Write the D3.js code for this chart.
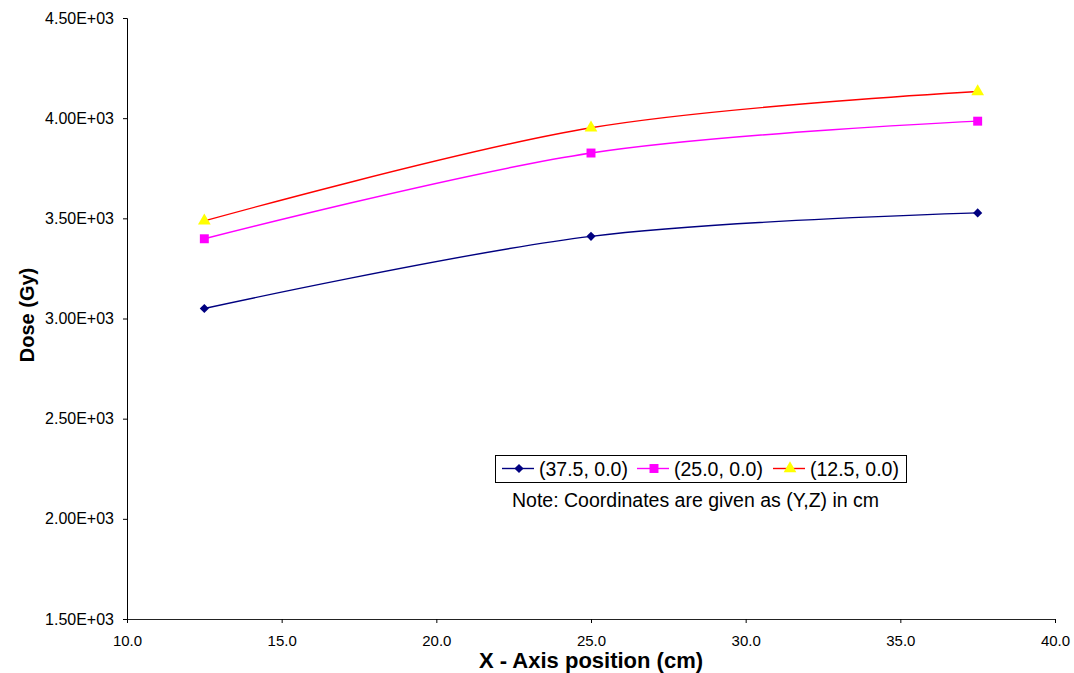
<!DOCTYPE html>
<html>
<head>
<meta charset="utf-8">
<script src="https://cdn.jsdelivr.net/npm/d3@7"></script>
<style>
html,body{margin:0;padding:0;background:#fff;}
svg{display:block;font-family:Arial,"Liberation Sans",sans-serif;}
</style>
</head>
<body>
<svg id="chart" width="1074" height="673"></svg>
<script>
const xValues = [12.5, 25.0, 37.5];
const seriesNames = ["(37.5, 0.0)", "(25.0, 0.0)", "(12.5, 0.0)"];
const seriesA = [3050, 3410, 3527];
const seriesB = [3398, 3826, 3985];
const seriesC = [3487, 3952, 4133];
const xTicks = [10, 15, 20, 25, 30, 35, 40];
const yTicks = [1500, 2000, 2500, 3000, 3500, 4000, 4500];
const colors = ["#000080", "#FF00FF", "#FF0000"];
const markerFill = ["#000080", "#FF00FF", "#FFFF00"];
const markerShapes = [d3.symbolSquare, d3.symbolSquare, d3.symbolTriangle];
const markerSizes = [42, 80, 70];
const markerRotate = [45, 0, 0];

const svg = d3.select("#chart");
const pLeft = 127, pRight = 1055, pTop = 18, pBottom = 619;
const x = d3.scaleLinear().domain([10, 40]).range([pLeft, pRight]);
const y = d3.scaleLinear().domain([1500, 4500]).range([pBottom, pTop]);

// axes
const yAxis = svg.append("g").attr("transform", `translate(${pLeft},0)`)
  .call(d3.axisLeft(y).tickValues(yTicks).tickSize(4).tickPadding(9)
    .tickFormat(d => d3.format(".2e")(d).replace("e+", "E+0")));
yAxis.select(".domain").attr("stroke", "#000");
yAxis.selectAll("text").attr("font-size", 16).attr("fill", "#000").attr("font-family", "Arial, 'Liberation Sans', sans-serif");

const xAxis = svg.append("g").attr("transform", `translate(0,${pBottom})`)
  .call(d3.axisBottom(x).tickValues(xTicks).tickSize(4).tickPadding(12)
    .tickFormat(d3.format(".1f")));
xAxis.select(".domain").attr("stroke", "#222");
xAxis.selectAll("text").attr("font-size", 15).attr("fill", "#000").attr("font-family", "Arial, 'Liberation Sans', sans-serif");

// titles
svg.append("text").attr("x", 591).attr("y", 668).attr("text-anchor", "middle")
  .attr("font-weight", "bold").attr("font-size", 22).text("X - Axis position (cm)");
svg.append("text").attr("transform", "translate(34,315) rotate(-90)").attr("text-anchor", "middle")
  .attr("font-weight", "bold").attr("font-size", 20).text("Dose (Gy)");

// series
const allSeries = [seriesA, seriesB, seriesC];
const line = d3.line().x(d => x(d[0])).y(d => y(d[1])).curve(d3.curveCardinal.tension(0));
allSeries.forEach((vals, i) => {
  const pts = xValues.map((xv, j) => [xv, vals[j]]);
  svg.append("path").datum(pts).attr("d", line).attr("fill", "none")
    .attr("stroke", colors[i]).attr("stroke-width", 1.4);
  svg.selectAll(null).data(pts).enter().append("path")
    .attr("d", d3.symbol().type(markerShapes[i]).size(markerSizes[i]))
    .attr("transform", d => `translate(${x(d[0])},${y(d[1])}) rotate(${markerRotate[i]})`)
    .attr("fill", markerFill[i]);
});

// legend
const lg = svg.append("g");
lg.append("rect").attr("x", 495.5).attr("y", 455.5).attr("width", 411).attr("height", 27)
  .attr("fill", "#fff").attr("stroke", "#000").attr("stroke-width", 1);
const legX = [502, 637, 773];
seriesNames.forEach((name, i) => {
  const g = lg.append("g").attr("transform", `translate(${legX[i]},468.5)`);
  g.append("line").attr("x1", 0).attr("x2", 32).attr("y1", 0).attr("y2", 0)
    .attr("stroke", colors[i]).attr("stroke-width", 1.4);
  g.append("path").attr("d", d3.symbol().type(markerShapes[i]).size(markerSizes[i]))
    .attr("transform", `translate(17,0) rotate(${markerRotate[i]})`).attr("fill", markerFill[i]);
  g.append("text").attr("x", 37).attr("y", 7.5).attr("font-size", 19.5).text(name);
});
svg.append("text").attr("x", 512).attr("y", 507).attr("font-size", 19.5)
  .text("Note: Coordinates are given as (Y,Z) in cm");
</script>
</body>
</html>
